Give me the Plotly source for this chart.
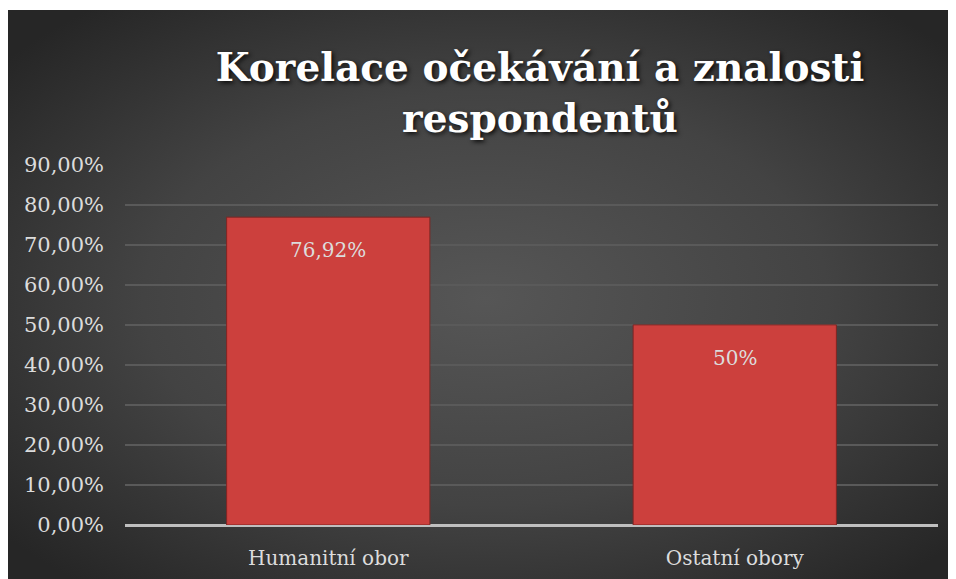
import base64
import plotly.graph_objects as go

categories = ["Humanitní obor", "Ostatní obory"]
values = [0.7692, 0.50]
value_labels = ["76,92%", "50%"]
tick_values = [0.0, 0.1, 0.2, 0.3, 0.4, 0.5, 0.6, 0.7, 0.8, 0.9]
tick_labels = ["0,00%", "10,00%", "20,00%", "30,00%", "40,00%", "50,00%",
               "60,00%", "70,00%", "80,00%", "90,00%"]
title_text = "Korelace očekávání a znalosti<br>respondentů"

W, H = 956, 579
# page body has an 8px margin; figure coords = screen coords - 8
ML, MR, MT, MB = 117, 26, 156, 62
PW, PH = W - ML - MR, H - MT - MB

svg = (
    '<svg xmlns="http://www.w3.org/2000/svg" width="957" height="577" viewBox="0 0 957 577" preserveAspectRatio="none">'
    '<defs><radialGradient id="g" cx="50%" cy="50%" r="65%">'
    '<stop offset="0%" stop-color="#565656"/>'
    '<stop offset="55%" stop-color="#434343"/>'
    '<stop offset="100%" stop-color="#262626"/>'
    '</radialGradient></defs>'
    '<rect width="957" height="577" fill="url(#g)"/></svg>'
)
svg_uri = "data:image/svg+xml;base64," + base64.b64encode(svg.encode()).decode()

fig = go.Figure()
fig.add_trace(go.Bar(
    x=categories, y=values, width=0.5,
    marker=dict(color="#cc403d", line=dict(color="#7f2523", width=1)),
    hoverinfo="skip",
))

for c, v, lab in zip(categories, values, value_labels):
    fig.add_annotation(x=c, y=v, text=lab, showarrow=False, yanchor="middle",
                       yshift=-33, font=dict(family="DejaVu Serif", size=20, color="#dcdcdc"))

x0 = (-1 - ML) / PW
x1 = (W - ML) / PW
ytop = (H - MB - 2) / PH
ybot = (H - MB - H) / PH
fig.add_layout_image(dict(source=svg_uri, xref="paper", yref="paper",
                          x=x0, y=ytop, sizex=x1 - x0, sizey=ytop - ybot,
                          xanchor="left", yanchor="top", sizing="stretch",
                          layer="below"))

fig.update_layout(
    width=W, height=H,
    margin=dict(l=ML, r=MR, t=MT, b=MB),
    paper_bgcolor="white",
    plot_bgcolor="rgba(0,0,0,0)",
    showlegend=False,
    title=dict(text=title_text, x=532 / W, xanchor="center", xref="container",
               y=1 - 73 / H, yanchor="top", yref="container",
               font=dict(family="DejaVu Serif", size=39, color="white", weight="bold",
                         shadow="2px 2px 4px rgba(0,0,0,0.8)")),
    xaxis=dict(showgrid=False, showline=False, ticks="",
               tickfont=dict(family="DejaVu Serif", size=20, color="#dcdcdc"),
               ticklabelstandoff=19),
    yaxis=dict(range=[0, 0.902], tickvals=tick_values, ticktext=tick_labels,
               showgrid=True, gridcolor="#5a5a5a", gridwidth=1.5,
               zeroline=True, zerolinecolor="#bfbfbf", zerolinewidth=2.5,
               showline=False, ticks="",
               tickfont=dict(family="DejaVu Serif", size=21, color="#dcdcdc"),
               ticklabelstandoff=20),
)

fig.write_html("out.html")
